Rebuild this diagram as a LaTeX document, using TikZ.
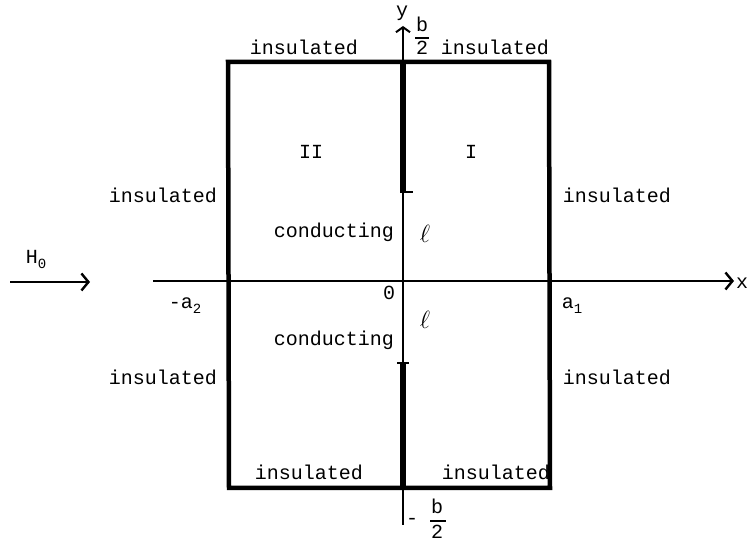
\documentclass[tikz,border=0pt]{standalone}
\usepackage{fontspec}
\setmainfont{Liberation Mono}
\usetikzlibrary{arrows.meta}
\newcommand{\lbsub}[1]{\raisebox{-5pt}{\fontsize{14}{14}\selectfont #1}}
\tikzset{
  lbl/.style={inner sep=0pt, font=\fontsize{20}{23}\selectfont},
  ell/.style={inner sep=0pt, font=\fontsize{30}{32}\selectfont},
  boxline/.style={line width=4.5pt, line cap=rect},
  axis/.style={line width=1.8pt},
  plate/.style={line width=6pt},
  bigtip/.style={-{Straight Barb[length=7pt,width=17pt,line width=2.4pt]}},
  smalltip/.style={-{Straight Barb[length=5pt,width=14pt,line width=2pt]}},
}
\begin{document}
\begin{tikzpicture}[x=1pt,y=-1pt]
\useasboundingbox (0,0) rectangle (748,545);
% coordinates
\coordinate (TL) at (228,62);
\coordinate (TR) at (549,62);
\coordinate (BR) at (550,488);
\coordinate (BL) at (229,488);
\coordinate (xs) at (153,281);
\coordinate (xe) at (734,281);
\coordinate (ys) at (403,525);
\coordinate (ye) at (403,26);
\coordinate (ptop) at (403,62);
\coordinate (pfoot) at (403,192);
\coordinate (pfootr) at (413,192);
\coordinate (pbot) at (403,488);
\coordinate (pbtop) at (403,363);
\coordinate (hs) at (10,282);
\coordinate (he) at (90,282);
% rectangle
\draw[boxline] (TL) -- (TR) -- (BR) -- (BL) -- cycle;
% axes
\draw[axis,bigtip] (xs) -- (xe);
\draw[line width=2pt,smalltip] (ys) -- (ye);
% conducting plates (thick parts of the y-axis)
\draw[plate] (ptop) -- (pfoot);
\draw[line width=2.8pt] ([xshift=-3pt]pfoot) -- (pfootr);
\draw[plate] (pbtop) -- (pbot);
\draw[line width=2.5pt] (397,363) -- (409,363);
% H0 arrow
\draw[axis,bigtip] (hs) -- (he);
\node[lbl] (h0) at (36,259) {H\lbsub{0}};
% axis labels
\node[lbl] (xl) at (742,283) {x};
\node[lbl] (yl) at (402,13) {y};
\node[lbl] (bt) at (422,24) {b};
\draw[line width=1.3pt] (415,38) -- (429,38);
\node[lbl] (tt) at (422,48) {2};
\node[lbl] (mb) at (412,521) {-};
\node[lbl] (bb) at (437,506) {b};
\draw[line width=1.3pt] (430,521) -- (446,521);
\node[lbl] (b2) at (437,532) {2};
% insulated labels
\node[lbl] (i1) at (304,47) {insulated};
\node[lbl] (i2) at (495,47) {insulated};
\node[lbl] (i3) at (163,195) {insulated};
\node[lbl] (i4) at (617,195) {insulated};
\node[lbl] (i5) at (163,377) {insulated};
\node[lbl] (i6) at (617,377) {insulated};
\node[lbl] (i7) at (309,472) {insulated};
\node[lbl] (i8) at (496,472) {insulated};
% region labels
\node[lbl] (r2) at (311,152) {II};
\node[lbl] (r1) at (471,152) {I};
\node[lbl] (c1) at (334,232) {conducting};
\node[lbl] (c2) at (334,340) {conducting};
\node[ell] (l1) at (425,234) {$\ell$};
\node[ell] (l2) at (425,320) {$\ell$};
\node[lbl] (zero) at (389,293) {0};
\node[lbl] (ma2) at (185,306) {-a\lbsub{2}};
\node[lbl] (a1) at (572,306) {a\lbsub{1}};
\end{tikzpicture}
\end{document}
